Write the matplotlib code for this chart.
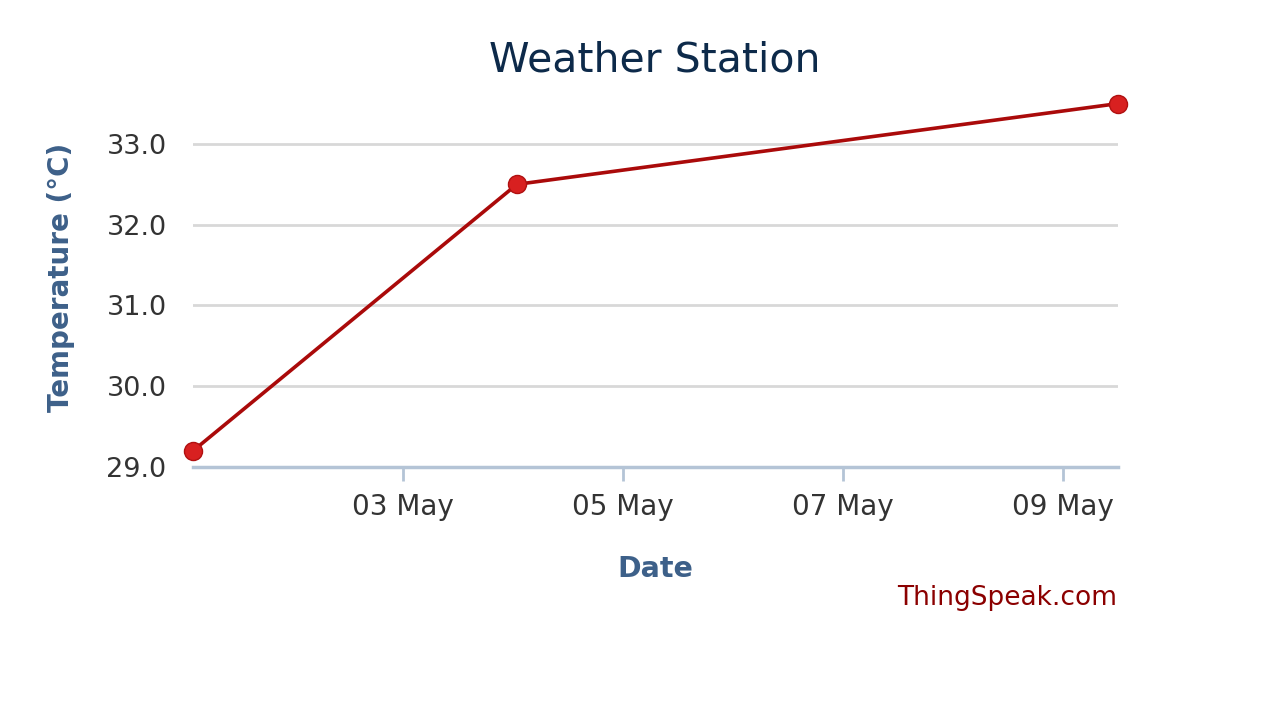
import matplotlib
matplotlib.use("Agg")
import matplotlib.pyplot as plt
import matplotlib.dates as mdates
from datetime import datetime

# readings taken off the chart
dates = [datetime(2023, 5, 1, 2, 10), datetime(2023, 5, 4, 0, 50), datetime(2023, 5, 9, 12, 0)]
temps = [29.2, 32.5, 33.5]
tick_days = [3, 5, 7, 9]
yticks = [29.0, 30.0, 31.0, 32.0, 33.0]

plt.rcParams['font.family'] = ['DejaVu Sans']

fig = plt.figure(figsize=(12.8, 7.2), dpi=100)
ax = fig.add_axes([193 / 1280, 1 - 467 / 720, (1118 - 193) / 1280, (467 - 103.6) / 720])

ax.plot(dates, temps, color='#AA0A0A', linewidth=2.6, marker='o', markersize=13,
        markerfacecolor='#D82020', markeredgecolor='#B01010', markeredgewidth=1.0,
        clip_on=False, zorder=3)

ax.set_xlim(dates[0], dates[-1])
ax.set_ylim(29.0, 33.5)
ax.set_yticks(yticks)
ax.yaxis.set_major_formatter(plt.FormatStrFormatter('%.1f'))
ax.xaxis.set_major_locator(mdates.DayLocator(bymonthday=tick_days))
ax.xaxis.set_major_formatter(mdates.DateFormatter('%d %b'))

ax.grid(axis='y', color='#D8D8D8', linewidth=2.0)
ax.set_axisbelow(True)
for side in ['top', 'right', 'left']:
    ax.spines[side].set_visible(False)
ax.spines['bottom'].set_color('#B4C4D6')
ax.spines['bottom'].set_linewidth(2.5)
ax.tick_params(axis='x', colors='#B4C4D6', length=10, width=2, pad=9,
               labelcolor='#333333', labelsize=20)
ax.tick_params(axis='y', length=0, pad=19, labelcolor='#333333', labelsize=19.5)

ax.set_xlabel('Date', fontsize=20.5, fontweight='bold', color='#3D6089', labelpad=24)
ax.set_ylabel('Temperature (°C)', fontsize=20, fontweight='bold', color='#3D6089')
# highcharts puts the axis title a bit above the middle
ax.yaxis.set_label_coords(-0.128, 0.523)

fig.text(655 / 1280, 1 - 61 / 720, 'Weather Station', ha='center', va='center',
         fontsize=29.5, color='#0D2A4A')
fig.text(1117 / 1280, 1 - 598 / 720, 'ThingSpeak.com', ha='right', va='center',
         fontsize=19, color='#8B0000')

fig.savefig('out.png', dpi=100)
